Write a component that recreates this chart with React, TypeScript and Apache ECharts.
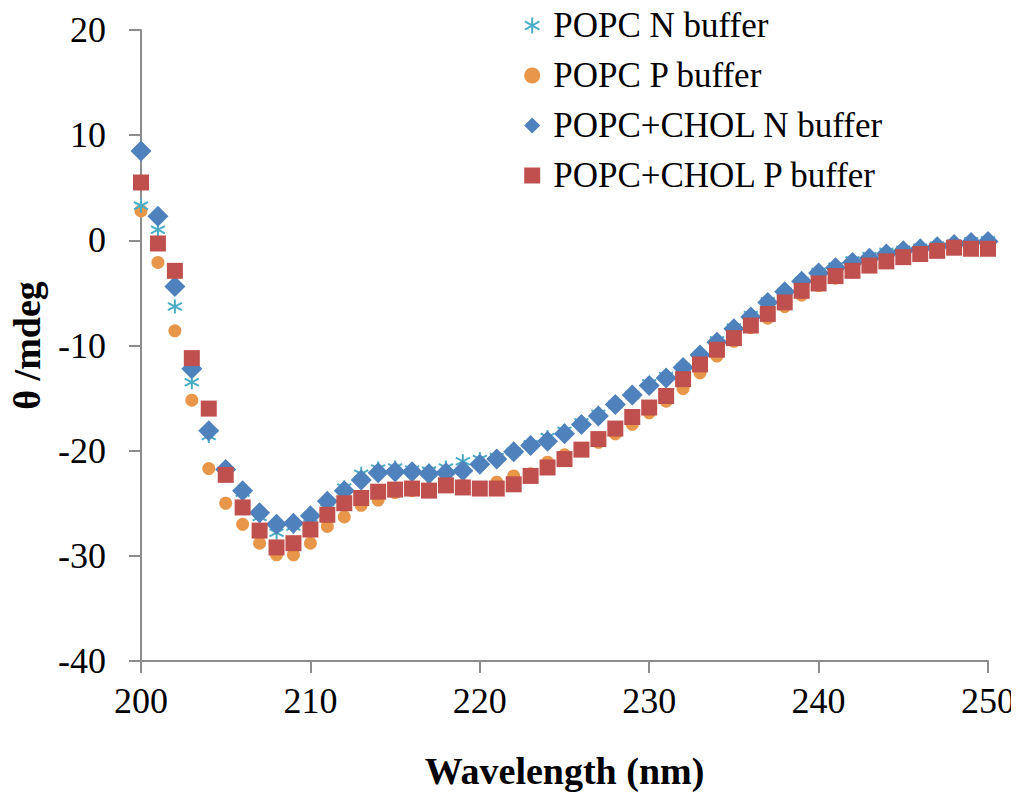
import React, { useEffect, useRef } from "react";
import * as echarts from "echarts";

const wavelengths = [200,201,202,203,204,205,206,207,208,209,210,211,212,213,214,215,216,217,218,219,220,221,222,223,224,225,226,227,228,229,230,231,232,233,234,235,236,237,238,239,240,241,242,243,244,245,246,247,248,249,250];

const popcN = [3.3,1.0,-6.3,-13.5,-18.6,-22.0,-24.0,-26.3,-27.8,-27.2,-26.4,-24.9,-23.5,-22.2,-21.7,-21.6,-21.8,-21.9,-21.6,-21.0,-20.8,-20.6,-20.1,-19.4,-18.7,-18.1,-17.3,-16.5,-15.6,-14.7,-13.6,-12.9,-12.1,-11.0,-9.5,-8.3,-7.1,-5.8,-4.9,-3.9,-3.0,-2.5,-1.9,-1.5,-1.1,-0.9,-0.7,-0.5,-0.3,-0.1,0.0];

const popcP = [2.8,-2.1,-8.6,-15.2,-21.7,-25.0,-27.0,-28.8,-29.9,-29.9,-28.8,-27.2,-26.3,-25.2,-24.7,-24.0,-23.8,-23.6,-23.1,-23.3,-23.6,-23.0,-22.4,-22.2,-21.1,-20.4,-19.9,-19.2,-18.4,-17.5,-16.4,-15.3,-14.1,-12.6,-11.0,-9.6,-8.3,-7.4,-6.3,-5.2,-4.3,-3.6,-3.0,-2.5,-2.0,-1.6,-1.2,-0.9,-0.6,-0.5,-0.4];

const cholN = [8.5,2.3,-4.4,-12.2,-18.1,-21.8,-23.8,-25.9,-27.0,-26.9,-26.2,-24.8,-23.8,-22.8,-22.1,-22.0,-22.0,-22.2,-22.1,-21.9,-21.3,-20.8,-20.1,-19.5,-19.1,-18.4,-17.5,-16.7,-15.6,-14.7,-13.8,-13.1,-12.1,-10.9,-9.7,-8.4,-7.3,-5.9,-4.9,-3.9,-3.1,-2.6,-2.1,-1.7,-1.3,-1.0,-0.8,-0.6,-0.4,-0.2,-0.1];

const cholP = [5.5,-0.3,-2.9,-11.2,-16.0,-22.3,-25.4,-27.6,-29.2,-28.8,-27.5,-26.1,-25.0,-24.5,-23.9,-23.7,-23.6,-23.8,-23.3,-23.5,-23.6,-23.6,-23.2,-22.4,-21.6,-20.8,-19.9,-18.9,-17.9,-16.8,-15.9,-14.8,-13.2,-11.8,-10.4,-9.3,-8.1,-7.0,-5.9,-4.8,-4.1,-3.4,-2.9,-2.4,-2.0,-1.6,-1.3,-1.0,-0.7,-0.8,-0.8];

const seriesNames = ["POPC N buffer", "POPC P buffer", "POPC+CHOL N buffer", "POPC+CHOL P buffer"];

const FONT = "Liberation Serif";
const ASTERISK = "path://M5,0 L5,10 M0.5,2.4 L9.5,7.6 M0.5,7.6 L9.5,2.4";

export default function App() {
  const ref = useRef<HTMLDivElement>(null);
  useEffect(() => {
    if (!ref.current) return;
    const chart = echarts.init(ref.current, null, { renderer: "svg" });
    const pair = (vals: number[]) => wavelengths.map((w, i) => [w, vals[i]]);
    chart.setOption({
      animation: false,
      grid: { left: 141, right: 31, top: 30, bottom: 132, containLabel: false, outerBoundsMode: "none" },
      legend: {
        orient: "vertical",
        left: 519,
        top: 3,
        itemGap: 15,
        itemWidth: 16,
        itemHeight: 16,
        textStyle: { fontFamily: FONT, fontSize: 35, color: "#000", padding: [0, 0, 0, 8] },
        data: seriesNames,
      },
      xAxis: {
        type: "value",
        min: 200,
        max: 250,
        interval: 10,
        name: "Wavelength (nm)",
        nameLocation: "middle",
        nameGap: 91,
        nameTextStyle: { fontFamily: FONT, fontSize: 38, fontWeight: "bold", color: "#000" },
        axisLine: { onZero: false, lineStyle: { color: "#8c8c8c", width: 2 } },
        axisTick: { show: true, length: 12, lineStyle: { color: "#8c8c8c", width: 2 } },
        axisLabel: { fontFamily: FONT, fontSize: 36, color: "#000", margin: 22 },
        splitLine: { show: false },
      },
      yAxis: {
        type: "value",
        min: -40,
        max: 20,
        interval: 10,
        name: "θ /mdeg",
        nameLocation: "middle",
        nameGap: 95,
        nameRotate: 90,
        nameTextStyle: { fontFamily: FONT, fontSize: 38, fontWeight: "bold", color: "#000" },
        axisLine: { show: true, onZero: false, lineStyle: { color: "#8c8c8c", width: 2 } },
        axisTick: { show: true, length: 12, lineStyle: { color: "#8c8c8c", width: 2 } },
        axisLabel: { fontFamily: FONT, fontSize: 36, color: "#000", margin: 35 },
        splitLine: { show: false },
      },
      series: [
        {
          name: seriesNames[0],
          type: "scatter",
          data: pair(popcN),
          symbol: ASTERISK,
          symbolSize: 14,
          itemStyle: { color: "rgba(0,0,0,0)", borderColor: "#4BACC6", borderWidth: 2, opacity: 1 },
          z: 2,
        },
        {
          name: seriesNames[1],
          type: "scatter",
          data: pair(popcP),
          symbol: "circle",
          symbolSize: 13,
          itemStyle: { color: "#E8974A", opacity: 1 },
          z: 1,
        },
        {
          name: seriesNames[2],
          type: "scatter",
          data: pair(cholN),
          symbol: "diamond",
          symbolSize: 21,
          itemStyle: { color: "#4F81BD", opacity: 1 },
          z: 3,
        },
        {
          name: seriesNames[3],
          type: "scatter",
          data: pair(cholP),
          symbol: "rect",
          symbolSize: 16,
          itemStyle: { color: "#C0504D", opacity: 1 },
          z: 4,
        },
      ],
    });
    return () => chart.dispose();
  }, []);
  return <div ref={ref} style={{ width: 1019, height: 793, marginLeft: -8, marginTop: -8 }} />;
}
